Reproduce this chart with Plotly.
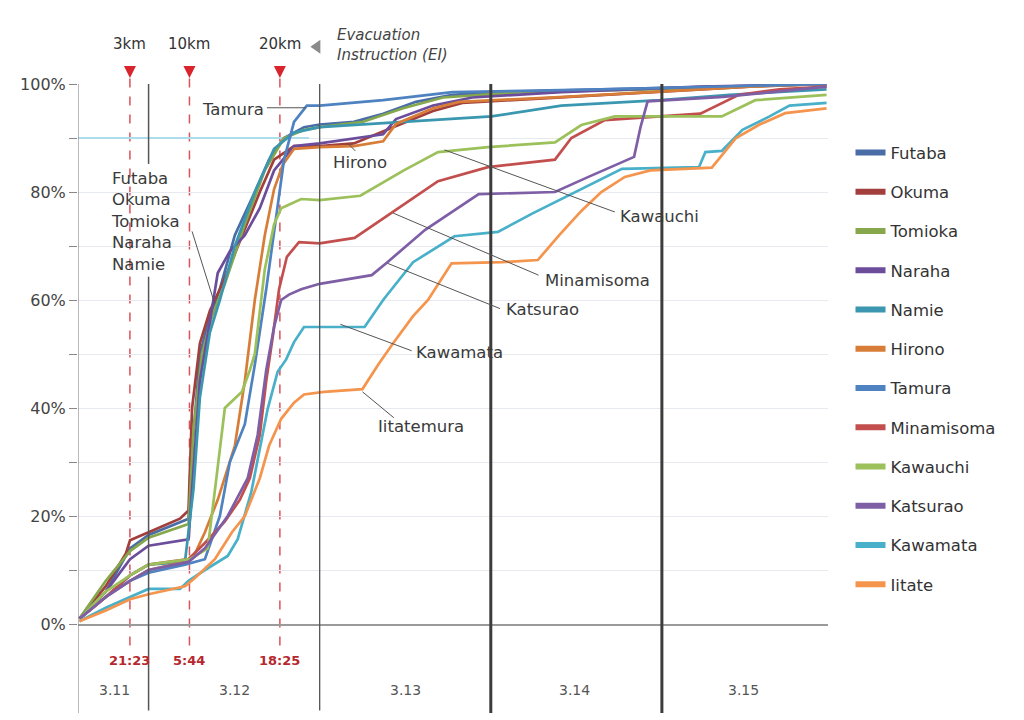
import plotly.graph_objects as go

# x: hours since 3/11 00:00, y: cumulative share evacuated (%)
names = ["Futaba", "Okuma", "Tomioka", "Naraha", "Namie", "Hirono", "Tamura",
         "Minamisoma", "Kawauchi", "Katsurao", "Kawamata", "Iitate"]
colors = ["#4A6DA7", "#A23F3C", "#86A74C", "#6B4D9B", "#3A97AF", "#D87D37", "#4F82C0",
          "#C24F4D", "#9CC05A", "#7E5FA6", "#48B0C8", "#F5944C"]

futaba_x = [14.3,18.0,21.4,24.0,29.6,30.3,31.2,32.6,34.0,36.1,38.9,40.9,43.0,45.8,48.0,52.8,56.9,61.5,66.6,73.6,87.5,101.4,119.1]
futaba_y = [1,6,14,16.5,19.5,35,50,57,62,72,80,86,90,92,92.5,93,94.5,96.7,98,98.5,99,99.5,100]

okuma_x = [14.3,18.0,20.8,21.4,24.0,28.4,29.6,30.1,31.2,32.6,34.7,37.5,39.6,41.6,44.4,48.0,52.8,58.3,63.9,68.0,81.9,94.4,108.3,119.1]
okuma_y = [1,7,13,15.5,17,19.5,21,40,52,58,64,73,80,86,88.5,88.5,89,92,95,96.5,97.5,98.5,99.5,100]

tomioka_x = [14.3,18.0,21.4,24.0,29.6,30.3,31.5,32.9,34.7,37.5,40.3,43.0,45.8,48.0,54.1,59.7,65.3,76.4,94.4,119.1]
tomioka_y = [1,8,13.5,16,18.5,36,50,57,63,74,84,90,91.5,92,93,95.5,97.5,98.5,99,100]

naraha_x = [14.3,18.0,21.4,24.0,29.6,30.3,31.2,32.6,33.7,35.4,37.5,39.6,41.6,44.4,48.0,56.9,58.7,63.9,69.4,81.9,101.4,119.1]
naraha_y = [1,6,12,14.5,15.7,28,45,56,65,69,72,77,84,88.5,89,90.7,93.5,96,97.5,98.5,99.5,100]

namie_x = [14.3,18.0,21.4,24.0,29.1,30.3,31.2,32.6,34.0,36.1,38.9,41.6,44.4,48.0,59.7,72.1,81.9,95.8,105.5,119.1]
namie_y = [1,5,9,11,11.5,25,42,54,60,70,80,88,91,92,93,94,96,97,98,99]

hirono_x = [14.3,18.0,21.4,24.0,29.1,30.5,31.9,33.7,36.1,37.5,38.9,40.3,41.6,42.8,44.4,48.0,52.8,56.9,58.7,63.9,67.6,82.3,94.4,108.3,119.1]
hirono_y = [1,5,8,10,11.5,13,17,23,33,45,60,72,80.5,85,88,88.3,88.5,89.4,92.6,95.5,96.7,97.6,98.5,99.5,100]

tamura_x = [14.3,18.0,21.4,24.0,29.1,31.9,34.0,35.4,37.5,38.9,40.5,41.9,43.0,44.4,46.2,48.0,56.9,66.6,87.5,119.1]
tamura_y = [1,5,8,9.5,11,12,20,30,37,48,62,75,86,93,96,96,97,98.5,99,100]

minamisoma_x = [14.3,18.0,21.4,24.0,29.6,31.9,34.7,36.8,38.2,39.6,40.5,41.4,42.3,43.4,45.1,48.0,52.9,58.4,64.6,71.6,81.0,83.3,88.0,101.4,106.8,112.5,119.1]
minamisoma_y = [1,5,9,11,12,15,19,23,27,35,45,53,62,68,70.7,70.5,71.5,76.5,82,84.6,86,90,93.3,94.5,98,99,99.5]

kawauchi_x = [14.3,18.0,21.4,24.0,29.8,32.3,33.6,34.7,37.1,38.2,38.9,40.3,41.6,42.6,45.4,48.0,53.7,59.8,64.6,71.6,81.0,84.7,89.4,104.4,109.1,119.1]
kawauchi_y = [1,6,9,11,12,14,28,40,43,47,50,65.7,74,77,78.7,78.5,79.3,84,87.4,88.3,89.2,92.4,94,94,97,98]

katsurao_x = [14.3,18.0,21.4,24.0,29.6,31.9,35.1,37.9,39.3,40.5,41.6,42.6,43.7,45.4,48.0,55.3,57.5,62.8,70.3,81.0,85.7,92.1,93.0,94.0,104.6,112.5,119.1]
katsurao_y = [1,5,8,10,11.5,14,20,27,35,47,55,60,61,62,63,64.6,67,73,79.6,80,82.8,86.5,92,96.8,97.6,98.7,99.5]

kawamata_x = [14.3,18.0,21.4,24.0,28.4,29.6,31.9,35.1,36.5,38.4,40.7,42.1,43.3,44.4,45.8,54.3,56.9,61.1,66.9,73.0,77.8,83.3,90.4,101.2,102.1,104.4,107.3,111.1,113.9,119.1]
kawamata_y = [0.5,3,5,6.5,6.5,8,10,12.6,15.7,24.4,39.8,46.7,49,52.2,55,55,60,67,71.8,72.6,76,79.6,84.3,84.6,87.4,87.6,91.5,94,96,96.5]

iitate_x = [14.3,18.0,21.4,24.0,29.1,30.5,33.3,35.7,37.5,39.6,40.9,42.6,44.4,45.8,48.6,54.0,56.2,58.3,61.1,63.2,66.5,73.6,78.6,81.6,84.7,87.5,90.8,94.4,103.0,106.4,109.7,113.3,119.1]
iitate_y = [0.5,2.5,4.6,5.5,7,8.5,12,17,20,27,33,38,41,42.5,43,43.5,48,52,57,60,66.8,67,67.4,72,76.5,80,82.8,84,84.5,90,92.5,94.6,95.5]

series_x = [futaba_x, okuma_x, tomioka_x, naraha_x, namie_x, hirono_x, tamura_x,
            minamisoma_x, kawauchi_x, katsurao_x, kawamata_x, iitate_x]
series_y = [futaba_y, okuma_y, tomioka_y, naraha_y, namie_y, hirono_y, tamura_y,
            minamisoma_y, kawauchi_y, katsurao_y, kawamata_y, iitate_y]

# evacuation instructions (hours since 3/11 00:00)
ei_x = [21 + 23/60, 24 + 5 + 44/60, 24 + 18 + 25/60]
ei_km = ["3km", "10km", "20km"]
ei_time = ["21:23", "5:44", "18:25"]

day_labels = ["3.11", "3.12", "3.13", "3.14", "3.15"]
day_label_x = [19.2, 36.1, 60.0, 83.8, 107.4]

y_ticks = list(range(0, 101, 10))
y_ticktext = [f"{v}%" if v % 20 == 0 else "" for v in y_ticks]

X0, X1 = 14.1, 119.3
FONT = "DejaVu Sans"

fig = go.Figure()

for i, (nm, c) in enumerate(zip(names, colors)):
    fig.add_trace(go.Scatter(x=series_x[i], y=series_y[i], mode="lines", name=nm,
                             line=dict(color=c, width=2.7), showlegend=False,
                             hoverinfo="name+y"))
# legend keys (thicker samples)
for i, (nm, c) in enumerate(zip(names, colors)):
    fig.add_trace(go.Scatter(x=[None], y=[None], mode="lines", name=nm,
                             line=dict(color=c, width=6), legendgroup=nm, showlegend=True))

shapes = []
# 90% reference line
shapes.append(dict(type="line", xref="x", yref="y", x0=X0, x1=46.5, y0=90, y1=90,
                   line=dict(color="#ADDCEB", width=1.8), layer="between"))
# dashed EI lines
for xv in ei_x:
    shapes.append(dict(type="line", xref="x", yref="paper", x0=xv, x1=xv, y0=-0.04, y1=1.01,
                       line=dict(color="#D9535A", width=1.5, dash="dash"), layer="between"))
    # red down-pointing triangle marker
    shapes.append(dict(type="path", xref="x", yref="paper", xsizemode="pixel", ysizemode="pixel",
                       xanchor=xv, yanchor=1.022, path="M -6,6 L 6,6 L 0,-6 Z",
                       fillcolor="#D9232D", line=dict(width=0)))
# gray left-pointing triangle next to the EI caption
shapes.append(dict(type="path", xref="x", yref="paper", xsizemode="pixel", ysizemode="pixel",
                   xanchor=47.4, yanchor=1.069, path="M -5,0 L 5,7 L 5,-7 Z",
                   fillcolor="#8A8A8A", line=dict(width=0)))
# day dividers
shapes.append(dict(type="line", xref="x", yref="paper", x0=24, x1=24, y0=0.852, y1=1.0,
                   line=dict(color="#555555", width=1.5)))
shapes.append(dict(type="line", xref="x", yref="paper", x0=24, x1=24, y0=-0.16, y1=0.643,
                   line=dict(color="#555555", width=1.5)))
shapes.append(dict(type="line", xref="x", yref="paper", x0=48, x1=48, y0=-0.16, y1=1.0,
                   line=dict(color="#555555", width=1.3)))
for xv in [72, 96]:
    shapes.append(dict(type="line", xref="x", yref="paper", x0=xv, x1=xv, y0=-0.165, y1=1.0,
                       line=dict(color="#3C3C3C", width=3)))
# left axis extension
shapes.append(dict(type="line", xref="x", yref="paper", x0=X0, x1=X0, y0=-0.165, y1=1.0,
                   line=dict(color="#777777", width=1)))

# leader lines for labels: (x0, y0, x1, y1)
leaders = [
    (40.6, 95.6, 46.0, 95.6),   # Tamura
    (30.1, 72.7, 33.3, 59.2),   # group
    (53.0, 87.6, 51.9, 89.1),   # Hirono
    (65.5, 87.8, 89.4, 76.3),   # Kawauchi
    (58.3, 76.1, 78.7, 64.6),   # Minamisoma
    (57.5, 66.8, 73.3, 58.4),   # Katsurao
    (50.9, 55.5, 60.9, 50.6),   # Kawamata
    (54.0, 43.0, 58.4, 38.2),   # Iitatemura
]
for a, b, c, d in leaders:
    shapes.append(dict(type="line", xref="x", yref="y", x0=a, y0=b, x1=c, y1=d,
                       line=dict(color="#555555", width=1)))

ann = []
lbl_font = dict(family=FONT, size=16.5, color="#3A3A3A")
ann.append(dict(x=35.8, y=95.3, text="Tamura", xanchor="center"))
ann.append(dict(x=18.4, y=74.6, text="Futaba<br>Okuma<br>Tomioka<br>Naraha<br>Namie",
                xanchor="left", align="left"))
ann.append(dict(x=53.6, y=85.5, text="Hirono", xanchor="center"))
ann.append(dict(x=89.8, y=75.5, text="Kawauchi", xanchor="left"))
ann.append(dict(x=79.3, y=63.6, text="Minamisoma", xanchor="left"))
ann.append(dict(x=73.9, y=58.3, text="Katsurao", xanchor="left"))
ann.append(dict(x=61.2, y=50.3, text="Kawamata", xanchor="left"))
ann.append(dict(x=55.9, y=36.5, text="Iitatemura", xanchor="left"))
for a in ann:
    a.update(xref="x", yref="y", showarrow=False, yanchor="middle", font=lbl_font)

for xv, km, tm in zip(ei_x, ei_km, ei_time):
    ann.append(dict(x=xv, y=1.074, xref="x", yref="paper", text=km, showarrow=False,
                    yanchor="middle", font=dict(family=FONT, size=15, color="#333333")))
    ann.append(dict(x=xv, y=-0.067, xref="x", yref="paper", text=f"<b>{tm}</b>", showarrow=False,
                    yanchor="middle", font=dict(family=FONT, size=13, color="#B5282E")))
for xv, dl in zip(day_label_x, day_labels):
    ann.append(dict(x=xv, y=-0.122, xref="x", yref="paper", text=dl, showarrow=False,
                    yanchor="middle", font=dict(family=FONT, size=14, color="#555555")))
ann.append(dict(x=50.2, y=1.072, xref="x", yref="paper", xanchor="left", yanchor="middle",
                text="<i>Evacuation<br>Instruction (EI)</i>", align="left", showarrow=False,
                font=dict(family=FONT, size=15, color="#444444")))

fig.update_layout(
    width=1024, height=720,
    margin=dict(l=64, r=204, t=76, b=104, pad=0),
    paper_bgcolor="white", plot_bgcolor="white",
    font=dict(family=FONT, color="#333333"),
    shapes=shapes, annotations=ann,
    legend=dict(x=1.03, y=0.905, xanchor="left", yanchor="top",
                font=dict(family=FONT, size=16.5, color="#333333"),
                tracegroupgap=14.8, itemwidth=30, bgcolor="rgba(0,0,0,0)"),
    xaxis=dict(range=[X0, X1], showticklabels=False, ticks="", showgrid=False,
               zeroline=False, showline=True, linecolor="#9A9A9A", linewidth=1.5),
    yaxis=dict(range=[0, 100], tickvals=y_ticks, ticktext=y_ticktext, ticks="outside",
               ticklen=8, tickcolor="#888888", showgrid=True, gridcolor="#E6EAEE",
               zeroline=False, showline=False,
               tickfont=dict(family=FONT, size=16, color="#444444")),
)

fig.write_html("out.html")
